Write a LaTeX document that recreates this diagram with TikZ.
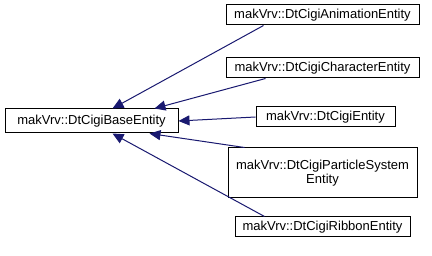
\documentclass[tikz,border=0pt]{standalone}
\usepackage{fontspec}
\setmainfont{Liberation Sans}
\usepackage{xcolor}
\usetikzlibrary{arrows.meta,positioning,calc}
\definecolor{edgeblue}{HTML}{191970}

\begin{document}
\begin{tikzpicture}[
  x=1pt, y=-1pt,
  cls/.style={draw=black, line width=1pt, fill=white, inner sep=0pt,
              font=\fontsize{13}{14}\selectfont, align=center},
  ar/.style={draw=edgeblue, line width=1pt,
             -{Triangle[length=11pt, width=10pt]}}
]
  \useasboundingbox (0,0) rectangle (432,256);
  \node[cls, minimum width=173pt, minimum height=24pt] (base) at (91.5,121) {makVrv::DtCigiBaseEntity};
  \node[cls, minimum width=193pt, minimum height=20pt] (anim) at (322.5,15) {makVrv::DtCigiAnimationEntity};
  \node[cls, minimum width=193pt, minimum height=20pt] (char) at (322.5,68) {makVrv::DtCigiCharacterEntity};
  \node[cls, minimum width=139pt, minimum height=20pt] (ent) at (325.5,117) {makVrv::DtCigiEntity};
  \node[cls, minimum width=189pt, minimum height=50pt] (part) at (322.5,173) {makVrv::DtCigiParticleSystem\\Entity};
  \node[cls, minimum width=175pt, minimum height=20pt] (rib) at (322.5,227) {makVrv::DtCigiRibbonEntity};
  \draw[ar] ($(anim.south west)+(38,0)$) -- ($(base.north west)+(108,0)$);
  \draw[ar] ($(char.south west)+(40,0)$) -- ($(base.north west)+(150,0)$);
  \draw[ar] (ent.west) -- (base.east);
  \draw[ar] ($(part.north west)+(17,0)$) -- ($(base.south west)+(145,0)$);
  \draw[ar] ($(rib.north west)+(30,0)$) -- ($(base.south west)+(108,0)$);
\end{tikzpicture}
\end{document}
